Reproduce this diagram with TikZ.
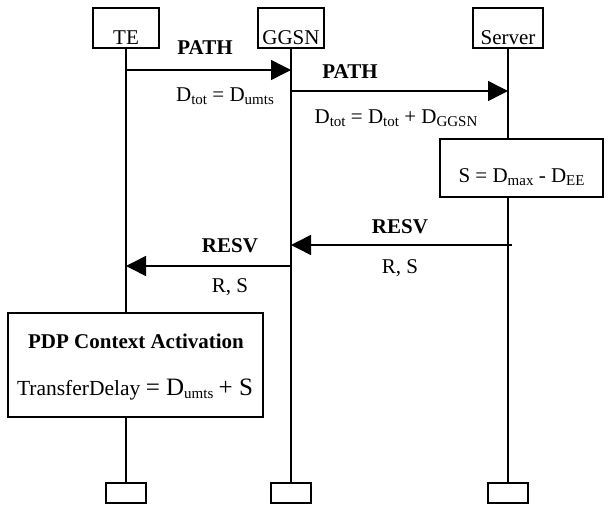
\documentclass[tikz,border=0pt]{standalone}
\usepackage{fontspec}
\setmainfont{Liberation Serif}
\usetikzlibrary{arrows.meta}
\newcommand{\lowsub}[1]{\raisebox{-3pt}{\fontsize{15}{15}\selectfont #1}}
\tikzstyle{headBox}=[shape = rectangle, draw, line width = 1.2pt, fill = white, minimum width = 66pt, inner sep = 2pt, text height = 34pt, text depth = 2pt]
\tikzstyle{footBox}=[shape = rectangle, draw, line width = 1.2pt, fill = white, minimum width = 40pt, minimum height = 20pt, inner sep = 0pt]
\tikzstyle{noteBox}=[shape = rectangle, draw, line width = 1.2pt, fill = white, inner sep = 0pt]
\tikzstyle{lifeLine}=[line width = 1.5pt]
\tikzstyle{msgArrow}=[line width = 1.5pt, -{Triangle[length = 20pt, width = 20pt]}]
\tikzstyle{msgLabel}=[inner sep = 0pt, anchor = base]

\begin{document}
\begin{tikzpicture}[x = 1pt, y = -1pt, font = \fontsize{21}{25}\selectfont]
\useasboundingbox (0,0) rectangle (610,506);
% heads and ends of the lifelines
\node[headBox] (te) at (126,28) {TE};
\node[headBox] (ggsn) at (291,28) {GGSN};
\node[headBox, minimum width = 70pt] (srv) at (508,28) {Server};
\node[footBox] (teEnd) at (126,493) {};
\node[footBox] (ggsnEnd) at (291,493) {};
\node[footBox] (srvEnd) at (508,493) {};
\draw[lifeLine] (te) -- (teEnd);
\draw[lifeLine] (ggsn) -- (ggsnEnd);
\draw[lifeLine] (srv) -- (srvEnd);
% message ends
\coordinate (m1a) at (126,70);
\coordinate (m1b) at (291,70);
\coordinate (m2a) at (291,91);
\coordinate (m2b) at (508,91);
\coordinate (m3a) at (512,245);
\coordinate (m3b) at (291,245);
\coordinate (m4a) at (291,266);
\coordinate (m4b) at (126,266);
\draw[msgArrow] (m1a) -- (m1b);
\draw[msgArrow] (m2a) -- (m2b);
\draw[msgArrow] (m3a) -- (m3b);
\draw[msgArrow] (m4a) -- (m4b);
% labels
\node[msgLabel, font = \fontsize{21}{25}\selectfont\bfseries] (path1) at (205,54) {PATH};
\node[msgLabel] (dtot1) at (225,101) {D\lowsub{tot} = D\lowsub{umts}};
\node[msgLabel, font = \fontsize{21}{25}\selectfont\bfseries] (path2) at (350,78) {PATH};
\node[msgLabel] (dtot2) at (396,123) {D\lowsub{tot} = D\lowsub{tot} + D\lowsub{GGSN}};
\node[noteBox, minimum width = 163pt, text height = 30pt, text depth = 2pt, inner ysep = 13pt] (sBox) at (521.5,168) {S = D\lowsub{max} - D\lowsub{EE}};
\node[msgLabel, font = \fontsize{21}{25}\selectfont\bfseries] (resv1) at (400,233) {RESV};
\node[msgLabel] (rs1) at (400,273) {R, S};
\node[msgLabel, font = \fontsize{21}{25}\selectfont\bfseries] (resv2) at (230,252) {RESV};
\node[msgLabel] (rs2) at (230,292) {R, S};
% PDP context
\node[noteBox, minimum width = 255pt, minimum height = 104pt] (pdp) at (135.5,365) {};
\node[msgLabel, font = \fontsize{21}{25}\selectfont\bfseries] (pdpTitle) at (136,348) {PDP Context Activation};
\node[msgLabel, font = \fontsize{21.5}{25}\selectfont] (pdpDelay) at (135,395) {TransferDelay {\fontsize{25}{28}\selectfont = D}\lowsub{umts} {\fontsize{25}{28}\selectfont + S}};
\end{tikzpicture}
\end{document}
